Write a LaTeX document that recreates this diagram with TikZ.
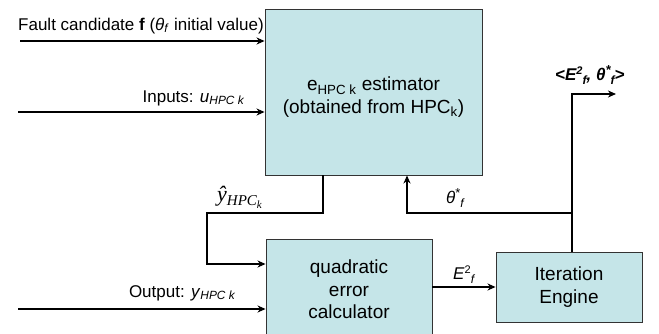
\documentclass[tikz,border=0pt]{standalone}
\usepackage{fontspec}
\setmainfont{Liberation Sans}
\newfontfamily\timesfont{Liberation Serif}
\usetikzlibrary{arrows.meta}
\definecolor{boxfill}{HTML}{C5E5E8}
\definecolor{boxline}{HTML}{333333}
\newcommand\subtx[1]{\textsubscript{#1}}
\newcommand\suptx[1]{\textsuperscript{#1}}
\begin{document}
\begin{tikzpicture}[x=1pt,y=-1pt,
  box/.style={draw=boxline, fill=boxfill, line width=0.9pt, inner sep=0pt, align=center,
    font=\fontsize{19}{22.5}\selectfont},
  boxtext/.style={inner sep=0pt, align=center, font=\fontsize{19}{22.5}\selectfont},
  conn/.style={line width=1.6pt},
  arr/.style={conn,-{Stealth[length=8pt,width=7pt,inset=2.5pt]}},
  lbl/.style={font=\fontsize{17}{20}\selectfont, inner sep=0pt}]
\useasboundingbox (0,0) rectangle (659,333);

% boxes
\node[box, minimum width=217pt, minimum height=166pt] (est) at (373.5,92) {};
\node[boxtext] (estt) at (373.5,97)
  {e\subtx{HPC k} estimator\\(obtained from HPC\subtx{k})};
\node[box, minimum width=166pt, minimum height=101pt] (quad) at (349,289.5)
  {quadratic\\error\\calculator};
\node[box, minimum width=146pt, minimum height=70pt] (iter) at (569,287)
  {Iteration\\Engine};

% coordinates
\coordinate (f0) at (20,41);
\coordinate (i0) at (18,112);
\coordinate (o0) at (18,309);
\coordinate (yA) at (323,213);
\coordinate (yB) at (207,264);
\coordinate (tA) at (407,213);
\coordinate (tB) at (572,213);
\coordinate (tC) at (572,94);
\coordinate (tD) at (616,94);
\coordinate (eA) at (432,287);

% connectors
\draw[arr] (f0) -- (est.west |- f0);
\draw[arr] (i0) -- (est.west |- i0);
\draw[arr] (o0) -- (quad.west |- o0);
\draw[arr] (est.south -| yA) -- (yA) -| (yB) -- (quad.west |- yB);
\draw[arr] (tB) -- (tA) -- (est.south -| tA);
\draw[arr] (iter.north -| tB) -- (tC) -- (tD);
\draw[arr] (quad.east |- eA) -- (iter.west |- eA);

% labels
\node[lbl, anchor=base west] (lf) at (18,30)
  {Fault candidate \textbf{f} (\textit{θ}\subtx{\textit{f}} initial value)};
\node[lbl, anchor=base east] (li) at (245,102)
  {Inputs: \textit{u}\subtx{\textit{HPC k}}};
\node[lbl, anchor=base east] (lo) at (236,297)
  {Output: \textit{y}\subtx{\textit{HPC k}}};
\node[lbl, anchor=base west, font=\timesfont\itshape\fontsize{22}{24}\selectfont] (ly) at (217,201)
  {\^{y}\raisebox{-4pt}{\fontsize{15}{16}\selectfont HPC\raisebox{-3pt}{\fontsize{11}{12}\selectfont k}}};
\node[lbl, anchor=base west] (lt) at (446,203)
  {\textit{θ}\raisebox{6pt}{\fontsize{13}{14}\selectfont *}\raisebox{-4pt}{\fontsize{12}{13}\selectfont\textit{f}}};
\node[lbl, anchor=base west] (le) at (453,279)
  {\textit{E}\raisebox{6pt}{\fontsize{11}{12}\selectfont 2}\raisebox{-4pt}{\fontsize{12}{13}\selectfont\textit{f}}};
\node[lbl, anchor=base west, font=\fontsize{17}{20}\selectfont\bfseries\itshape] (lr) at (555,80)
  {<E\raisebox{6pt}{\fontsize{11}{12}\selectfont 2}\raisebox{-4pt}{\fontsize{12}{13}\selectfont f},
   θ\raisebox{6pt}{\fontsize{13}{14}\selectfont *}\raisebox{-4pt}{\fontsize{12}{13}\selectfont f}>};
\end{tikzpicture}
\end{document}
